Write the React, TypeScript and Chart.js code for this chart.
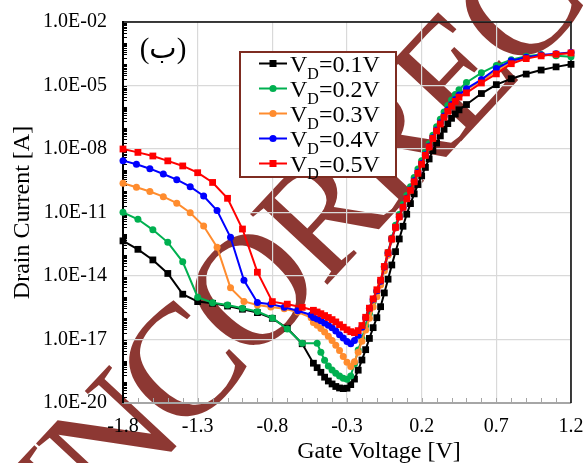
import React, { useEffect, useRef } from 'react';
import { Chart, registerables } from 'chart.js';

Chart.register(...registerables);

const FONT = '"Liberation Serif", "Times New Roman", serif';

// ---- axis ticks ----
const xTickValues = [-1.8, -1.3, -0.8, -0.3, 0.2, 0.7, 1.2];
const xTickLabels = ['-1.8', '-1.3', '-0.8', '-0.3', '0.2', '0.7', '1.2'];
const yTickValues = [1e-20, 1e-17, 1e-14, 1e-11, 1e-8, 1e-5, 1e-2];
const yTickLabels = ['1.0E-20', '1.0E-17', '1.0E-14', '1.0E-11', '1.0E-08', '1.0E-05', '1.0E-02'];

// ---- series meta ----
const seriesNames = ['0.1V', '0.2V', '0.3V', '0.4V', '0.5V'];
const seriesColors = ['#000000', '#00b050', '#ff8c2e', '#0000ff', '#ff0000'];
const seriesMarkers = ['rect', 'circle', 'circle', 'circle', 'rect'];

// ---- gate voltage samples [V] ----
const xLeft10 = [-1.8, -1.7, -1.6, -1.5, -1.4, -1.3, -1.2, -1.1, -1.0, -0.9, -0.8, -0.7, -0.6];
const xLeftGreen = [-1.8, -1.7, -1.6, -1.5, -1.4, -1.3, -1.2, -1.1, -1.0, -0.9, -0.8, -0.7, -0.6, -0.5];
const xLeft09 = [-1.8, -1.71, -1.62, -1.53, -1.44, -1.35, -1.26, -1.17, -1.08, -0.99, -0.9, -0.81, -0.72, -0.63, -0.54];
const xDense = [-0.525, -0.5, -0.475, -0.45, -0.425, -0.4, -0.375, -0.35, -0.325, -0.3, -0.275, -0.25, -0.225, -0.2, -0.175, -0.15, -0.125, -0.1, -0.075, -0.05, -0.025, 0, 0.025, 0.05, 0.075, 0.1, 0.125, 0.15, 0.175, 0.2, 0.225, 0.25, 0.275, 0.3, 0.325, 0.35, 0.375, 0.4, 0.425, 0.45];
const xDenseGreen = [-0.475, -0.45, -0.425, -0.4, -0.375, -0.35, -0.325, -0.3, -0.275, -0.25, -0.225, -0.2, -0.175, -0.15, -0.125, -0.1, -0.075, -0.05, -0.025, 0, 0.025, 0.05, 0.075, 0.1, 0.125, 0.15, 0.175, 0.2, 0.225, 0.25, 0.275, 0.3, 0.325, 0.35, 0.375, 0.4, 0.425, 0.45];
const xRight = [0.5, 0.6, 0.7, 0.8, 0.9, 1.0, 1.1, 1.2];

// ---- drain current, log10(I [A]) ----
const vd01Left = [-12.34, -12.74, -13.24, -13.88, -14.86, -15.21, -15.29, -15.42, -15.57, -15.73, -16.0, -16.47, -17.2];
const vd01Dense = [-18.12, -18.33, -18.55, -18.78, -18.96, -19.1, -19.22, -19.29, -19.32, -19.3, -19.13, -18.87, -18.45, -17.97, -17.48, -16.95, -16.44, -15.97, -15.45, -14.8, -14.15, -13.48, -12.85, -12.25, -11.65, -11.08, -10.58, -10.12, -9.68, -9.27, -8.87, -8.47, -8.08, -7.72, -7.38, -7.07, -6.8, -6.55, -6.35, -6.15];
const vd01Right = [-5.9, -5.38, -4.96, -4.68, -4.46, -4.27, -4.12, -4.0];

const vd02Left = [-10.99, -11.32, -11.82, -12.41, -13.33, -15.0, -15.26, -15.37, -15.52, -15.68, -15.98, -16.5, -17.18, -17.18];
const vd02Dense = [-17.6, -17.98, -18.25, -18.44, -18.6, -18.73, -18.83, -18.88, -18.72, -18.15, -17.5, -16.95, -16.35, -15.77, -15.22, -14.74, -14.25, -13.55, -12.88, -12.2, -11.6, -11.1, -10.62, -10.2, -9.78, -9.35, -8.95, -8.55, -8.15, -7.75, -7.35, -6.95, -6.6, -6.25, -5.95, -5.68, -5.42, -5.2];
const vd02Right = [-4.86, -4.4, -4.05, -3.78, -3.62, -3.54, -3.6, -3.64];

const vd03Left = [-9.62, -9.81, -10.01, -10.25, -10.56, -11.01, -11.64, -12.64, -14.56, -15.2, -15.37, -15.46, -15.55, -15.7, -15.97];
const vd03Dense = [-16.2, -16.33, -16.48, -16.65, -16.85, -17.05, -17.27, -17.52, -17.8, -18.08, -18.28, -18.05, -17.6, -17.08, -16.55, -16.0, -15.47, -14.98, -14.42, -13.75, -13.02, -12.3, -11.73, -11.22, -10.78, -10.35, -9.95, -9.53, -9.12, -8.7, -8.3, -7.9, -7.5, -7.12, -6.78, -6.46, -6.17, -5.92, -5.68, -5.47];
const vd03Right = [-5.2, -4.78, -4.32, -3.9, -3.7, -3.58, -3.52, -3.47];

const vd04Left = [-8.55, -8.72, -8.93, -9.18, -9.45, -9.78, -10.22, -10.91, -12.17, -14.2, -15.25, -15.33, -15.48, -15.64, -15.84];
const vd04Dense = [-15.96, -16.03, -16.12, -16.22, -16.33, -16.45, -16.6, -16.77, -16.93, -17.1, -17.2, -17.05, -16.8, -16.42, -15.97, -15.52, -15.1, -14.7, -14.25, -13.58, -12.92, -12.25, -11.7, -11.2, -10.75, -10.33, -9.92, -9.5, -9.1, -8.68, -8.27, -7.87, -7.47, -7.1, -6.76, -6.44, -6.15, -5.9, -5.66, -5.45];
const vd04Right = [-5.15, -4.72, -4.2, -3.83, -3.67, -3.56, -3.5, -3.44];

const vd05Left = [-8.0, -8.16, -8.33, -8.56, -8.8, -9.12, -9.58, -10.33, -11.78, -13.82, -15.21, -15.33, -15.48];
const vd05Dense = [-15.62, -15.7, -15.78, -15.87, -15.96, -16.06, -16.17, -16.3, -16.42, -16.54, -16.63, -16.68, -16.58, -16.34, -15.95, -15.52, -15.08, -14.65, -14.2, -13.55, -12.9, -12.25, -11.7, -11.2, -10.75, -10.35, -9.95, -9.55, -9.15, -8.72, -8.3, -7.9, -7.5, -7.15, -6.82, -6.5, -6.22, -5.97, -5.75, -5.55];
const vd05Right = [-5.35, -4.88, -4.45, -3.97, -3.73, -3.6, -3.52, -3.46];

const WATERMARK = 'INCORRECT';
const PANEL_LABEL = '(ب)';

function pts(xs: number[], logs: number[]) {
  return xs.map((x, i) => ({ x, y: Math.pow(10, logs[i]) }));
}

const seriesPoints = [
  [...pts(xLeft10, vd01Left), ...pts(xDense, vd01Dense), ...pts(xRight, vd01Right)],
  [...pts(xLeftGreen, vd02Left), ...pts(xDenseGreen, vd02Dense), ...pts(xRight, vd02Right)],
  [...pts(xLeft09, vd03Left), ...pts(xDense, vd03Dense), ...pts(xRight, vd03Right)],
  [...pts(xLeft09, vd04Left), ...pts(xDense, vd04Dense), ...pts(xRight, vd04Right)],
  [...pts(xLeft10, vd05Left), ...pts(xDense, vd05Dense), ...pts(xRight, vd05Right)],
];

const decor = {
  id: 'decor',
  beforeDraw(chart: any) {
    const ctx = chart.ctx;
    ctx.save();
    ctx.fillStyle = '#ffffff';
    ctx.fillRect(0, 0, chart.width, chart.height);
    // watermark
    const size = 160;
    ctx.font = `${size}px ${FONT}`;
    try {
      (ctx as any).letterSpacing = '-8px';
    } catch (e) {
      /* ignore */
    }
    ctx.fillStyle = '#8d3833';
    ctx.textAlign = 'left';
    ctx.textBaseline = 'alphabetic';
    const wBefore = ctx.measureText('INC').width;
    const wO = ctx.measureText('O').width;
    ctx.translate(248, 292);
    ctx.rotate((-47 * Math.PI) / 180);
    ctx.fillText(WATERMARK, -(wBefore + wO / 2), (size * 0.662) / 2);
    try {
      (ctx as any).letterSpacing = '0px';
    } catch (e) {
      /* ignore */
    }
    ctx.restore();
  },
  beforeDatasetsDraw(chart: any) {
    const ctx = chart.ctx;
    const { left, right, top, bottom } = chart.chartArea;
    const xs = chart.scales.x;
    const ys = chart.scales.y;
    ctx.save();
    // x minor ticks
    ctx.strokeStyle = '#a6a6a6';
    ctx.lineWidth = 1;
    for (let k = -17; k <= 11; k++) {
      const px = Math.round(xs.getPixelForValue(k / 10)) + 0.5;
      ctx.beginPath();
      ctx.moveTo(px, bottom - 1);
      ctx.lineTo(px, bottom - 5);
      ctx.stroke();
    }
    // y minor ticks
    ctx.strokeStyle = '#000000';
    for (let e = -20; e <= -3; e++) {
      for (let m = 1; m <= 9; m++) {
        if (m === 1 && (e + 20) % 3 === 0) continue;
        const v = m * Math.pow(10, e);
        if (v > 1e-2) continue;
        const py = Math.round(ys.getPixelForValue(v)) + 0.5;
        ctx.beginPath();
        ctx.moveTo(left, py);
        ctx.lineTo(left + 4, py);
        ctx.stroke();
      }
    }
    // top and right frame
    ctx.strokeStyle = '#000000';
    ctx.lineWidth = 1.5;
    ctx.beginPath();
    ctx.moveTo(left, top);
    ctx.lineTo(right, top);
    ctx.lineTo(right, bottom);
    ctx.stroke();
    ctx.restore();
  },
  afterDatasetsDraw(chart: any) {
    const ctx = chart.ctx;
    ctx.save();
    // legend
    ctx.fillStyle = '#ffffff';
    ctx.fillRect(240, 52, 156, 125);
    ctx.strokeStyle = '#7e2c21';
    ctx.lineWidth = 2;
    ctx.strokeRect(240, 52, 156, 125);
    for (let i = 0; i < seriesNames.length; i++) {
      const cy = 63.5 + 25 * i;
      const col = seriesColors[i];
      ctx.strokeStyle = col;
      ctx.fillStyle = col;
      ctx.lineWidth = 2;
      ctx.beginPath();
      ctx.moveTo(259, cy);
      ctx.lineTo(287, cy);
      ctx.stroke();
      if (seriesMarkers[i] === 'rect') {
        ctx.fillRect(273 - 3.5, cy - 3.5, 7, 7);
      } else {
        ctx.beginPath();
        ctx.arc(273, cy, 3.6, 0, Math.PI * 2);
        ctx.fill();
      }
      ctx.fillStyle = '#000000';
      ctx.textAlign = 'left';
      ctx.textBaseline = 'alphabetic';
      let x = 290;
      const base = cy + 8;
      ctx.font = `24px ${FONT}`;
      ctx.fillText('V', x, base);
      x += ctx.measureText('V').width;
      ctx.font = `16px ${FONT}`;
      ctx.fillText('D', x, base + 7);
      x += ctx.measureText('D').width;
      ctx.font = `24px ${FONT}`;
      ctx.fillText('=' + seriesNames[i], x, base);
    }
    // panel label
    ctx.font = `29px ${FONT}, "DejaVu Sans"`;
    ctx.textAlign = 'center';
    ctx.fillStyle = '#000000';
    ctx.fillText(PANEL_LABEL, 163, 58);
    // axis titles
    ctx.font = `24px ${FONT}`;
    ctx.textAlign = 'center';
    ctx.fillText('Gate Voltage [V]', 379, 457.5);
    ctx.translate(29, 212.5);
    ctx.rotate(-Math.PI / 2);
    ctx.fillText('Drain Current [A]', 0, 0);
    ctx.restore();
  },
};

export default function App() {
  const ref = useRef<HTMLCanvasElement>(null);
  useEffect(() => {
    document.body.style.margin = '0';
    const order = [4, 3, 2, 1, 0];
    const datasets = order.map((i) => ({
      label: 'V_D=' + seriesNames[i],
      data: seriesPoints[i],
      borderColor: seriesColors[i],
      backgroundColor: seriesColors[i],
      pointBackgroundColor: seriesColors[i],
      pointBorderWidth: 0,
      pointStyle: seriesMarkers[i],
      pointRadius: seriesMarkers[i] === 'rect' ? 4.8 : 3.5,
      borderWidth: 2,
      tension: 0,
      showLine: true,
      clip: false,
    }));
    const chart = new Chart(ref.current as HTMLCanvasElement, {
      type: 'line',
      data: { datasets } as any,
      options: {
        animation: false,
        responsive: false,
        devicePixelRatio: 1,
        layout: { padding: { left: 0, right: 12, top: 22, bottom: 0 } },
        plugins: { legend: { display: false }, tooltip: { enabled: false } },
        scales: {
          x: {
            type: 'linear',
            min: -1.8,
            max: 1.2,
            afterBuildTicks: (s: any) => {
              s.ticks = xTickValues.map((value) => ({ value }));
            },
            afterFit: (s: any) => {
              s.height = 60;
              s.paddingLeft = 0;
              s.paddingRight = 0;
            },
            ticks: {
              autoSkip: false,
              maxRotation: 0,
              padding: 12,
              color: '#000000',
              font: { family: FONT, size: 20 },
              callback: (_v: any, i: number) => xTickLabels[i],
            },
            grid: { color: '#d9d9d9', lineWidth: 1.2, drawTicks: false },
            border: { display: true, color: '#a6a6a6', width: 2 },
          },
          y: {
            type: 'logarithmic',
            min: 1e-20,
            max: 1e-2,
            afterBuildTicks: (s: any) => {
              s.ticks = yTickValues.map((value) => ({ value }));
            },
            afterFit: (s: any) => {
              s.width = 123;
              s.paddingTop = 0;
              s.paddingBottom = 0;
            },
            ticks: {
              autoSkip: false,
              padding: 16,
              color: '#000000',
              font: { family: FONT, size: 20 },
              callback: (_v: any, i: number) => yTickLabels[i],
            },
            grid: { color: '#d9d9d9', lineWidth: 1.2, drawTicks: false },
            border: { display: true, color: '#000000', width: 2 },
          },
        },
      } as any,
      plugins: [decor],
    });
    return () => chart.destroy();
  }, []);
  return (
    <div style={{ width: 583, height: 463 }}>
      <canvas ref={ref} width={583} height={463} style={{ display: 'block' }} />
    </div>
  );
}
